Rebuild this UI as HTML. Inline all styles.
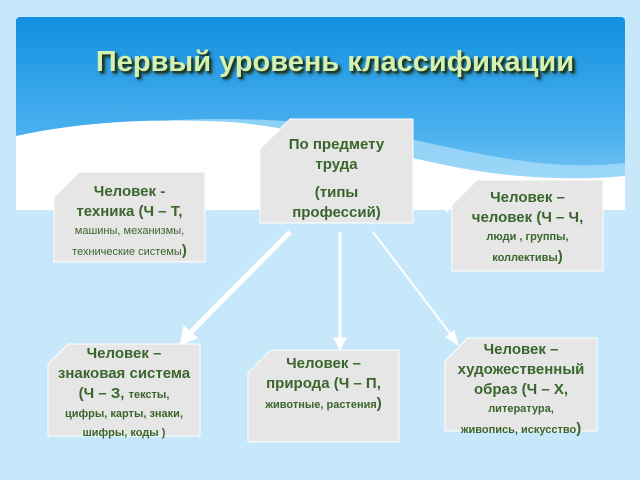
<!DOCTYPE html>
<html><head><meta charset="utf-8"><style>
body{margin:0;width:640px;height:480px;background:#c7e7fa;overflow:hidden;position:relative;font-family:"Liberation Sans","DejaVu Sans",sans-serif}
svg{position:absolute;left:0;top:0}
.t{position:absolute;left:0;top:46px;width:640px;text-align:center;font:bold 29px "Liberation Sans",sans-serif;color:#d6f0b0;text-shadow:2px 2px 1px #1d3a28,3px 3px 3px #1d3a28;padding-left:30px;box-sizing:border-box}
.b{position:absolute;text-align:center;color:#3a662c;font-weight:bold;font-size:15px;line-height:20px;display:flex;flex-direction:column;justify-content:flex-start;box-sizing:border-box;padding-top:8px}
.s{font-size:11px;line-height:19px}
.n{font-weight:normal}
</style></head><body>
<svg width="640" height="480">
<defs>
<linearGradient id="g" x1="0" y1="0" x2="0" y2="1"><stop offset="0" stop-color="#1290e0"/><stop offset="0.6" stop-color="#4ab0ee"/><stop offset="1" stop-color="#8ed0f6"/></linearGradient>
</defs>
<rect x="16" y="17" width="609" height="193" rx="4" fill="url(#g)"/>
<path d="M16 145 C120 115 240 115 330 125 C430 137 520 175 625 163 L625 210 L16 210Z" fill="#aee0fa" opacity="0.7"/>
<path d="M16 136 C80 122 150 118 230 122 C330 130 420 168 520 176 C570 180 600 178 625 176 L625 210 L16 210Z" fill="#ffffff"/>
<g stroke="#fff" fill="#fff">
<line x1="290" y1="232" x2="188" y2="335" stroke-width="5"/>
<polygon points="180,345 184,326 197,338"/>
<line x1="340" y1="232" x2="340" y2="340" stroke-width="3"/>
<polygon points="334,338 346,338 340,350"/>
<line x1="373" y1="232" x2="452" y2="336" stroke-width="2"/>
<polygon points="458,345 446,337 454,331"/>
<line x1="232" y1="196" x2="212" y2="210" stroke-width="2"/>
<line x1="438" y1="200" x2="448" y2="212" stroke-width="2"/>
</g>
<g fill="#e6e6e6" stroke="#fff" stroke-width="1">
<polygon points="290,119 413,119 413,223 260,223 260,149"/>
<polygon points="79,172 205,172 205,262 54,262 54,197"/>
<polygon points="477,180 603,180 603,271 452,271 452,205"/>
<polygon points="68,344 200,344 200,436 48,436 48,364"/>
<polygon points="271,350 399,350 399,442 248,442 248,373"/>
<polygon points="468,338 597,338 597,431 445,431 445,361"/>
</g>
</svg>
<div class="t">Первый уровень классификации</div>
<div class="b" style="left:260px;top:123px;width:153px;padding-top:12px">По предмету<br>труда<div style="height:8px"></div>(типы<br>профессий)</div>
<div class="b" style="left:54px;top:174px;width:151px">Человек -<br>техника (Ч – Т,<span class="s n">машины, механизмы,</span><span class="s n">технические системы<b style="font-size:15px">)</b></span></div>
<div class="b" style="left:452px;top:180px;width:151px">Человек –<br>человек (Ч – Ч,<span class="s">люди , группы,</span><span class="s">коллективы<span style="font-size:15px">)</span></span></div>
<div class="b" style="left:40px;top:336px;width:168px">Человек –<br>знаковая система<br><span>(Ч – З, <span class="s">тексты,</span></span><span class="s">цифры, карты, знаки,</span><span class="s">шифры, коды )</span></div>
<div class="b" style="left:248px;top:346px;width:151px">Человек –<br>природа (Ч – П,<span class="s">животные, растения<span style="font-size:15px">)</span></span></div>
<div class="b" style="left:440px;top:332px;width:162px">Человек –<br>художественный<br>образ (Ч – Х,<span class="s">литература,</span><span class="s">живопись, искусство<span style="font-size:15px">)</span></span></div>
</body></html>
